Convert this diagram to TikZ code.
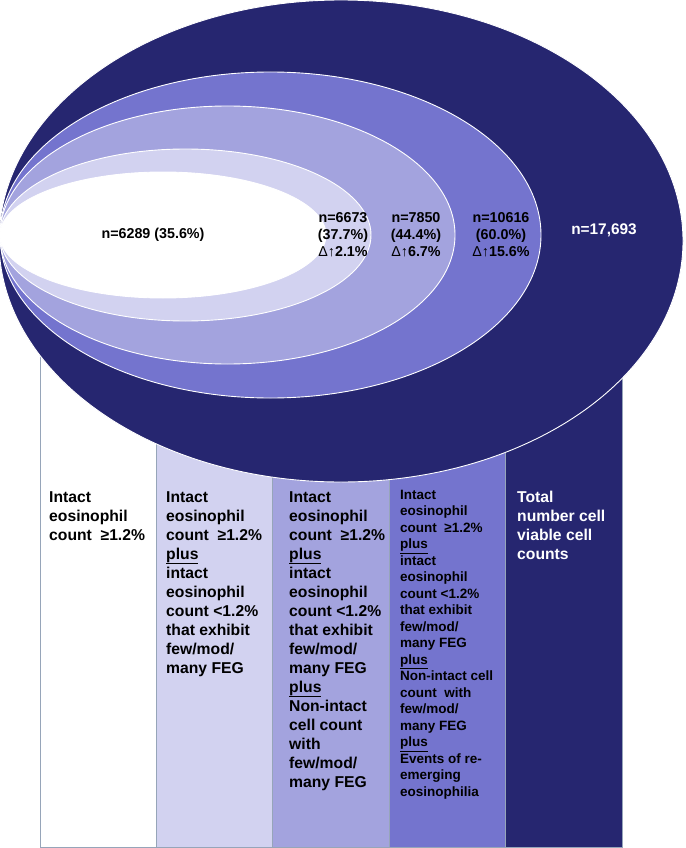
\documentclass[tikz,border=0pt]{standalone}
\usepackage{fontspec}
\setmainfont{Liberation Sans}
\usetikzlibrary{positioning}

\definecolor{ringdark}{RGB}{38,38,112}
\definecolor{ringmid}{RGB}{116,116,206}
\definecolor{ringlight}{RGB}{163,163,222}
\definecolor{ringpale}{RGB}{210,210,240}
\definecolor{colborder}{RGB}{150,165,185}

\newcommand{\riseby}[1]{{\mdseries Δ↑}#1\%}

\begin{document}
\begin{tikzpicture}[x=1pt, y=-1pt,
        % Shape styles
        ring/.style={draw=white, line width=0.9pt},
        colbox/.style={draw=colborder, line width=0.8pt},
        % Text styles
        coltext/.style={anchor=north west, inner sep=0pt, align=left, font=\bfseries\fontsize{15.7}{19}\selectfont},
        smalltext/.style={coltext, font=\bfseries\fontsize{13.5}{16.5}\selectfont},
        ringlabel/.style={inner sep=0pt, align=center, font=\bfseries\fontsize{14.3}{17}\selectfont}
    ]
    \useasboundingbox (0,0) rectangle (685,848);

    % --- COLUMNS BEHIND THE RINGS ---
    \foreach \i/\c in {0/white, 1/ringpale, 2/ringlight, 3/ringmid, 4/ringdark}
        \draw [colbox, fill=\c] ({40+116.4*\i},357) rectangle ({40+116.4*(\i+1)},847);

    % --- NESTED RINGS ---
    \draw [ring, fill=ringdark] (341,241) ellipse [x radius=342, y radius=241];
    \draw [ring, fill=ringmid] (270.5,235) ellipse [x radius=270.5, y radius=163];
    \draw [ring, fill=ringlight] (227.5,235) ellipse [x radius=227.5, y radius=129];
    \draw [ring, fill=ringpale] (185.5,235) ellipse [x radius=185.5, y radius=86];
    \draw [ring, fill=white] (163,235) ellipse [x radius=163, y radius=63];

    % --- RING LABELS ---
    \node (core) [ringlabel] at (153,235) {n=6289 (35.6\%)};
    \node (ring1) [ringlabel] at (343,235) {n=6673\\(37.7\%)\\\riseby{2.1}};
    \node (ring2) [ringlabel] at (416,235) {n=7850\\(44.4\%)\\\riseby{6.7}};
    \node (ring3) [ringlabel] at (501,235) {n=10616\\(60.0\%)\\\riseby{15.6}};
    \node (total) [ringlabel, text=white, font=\bfseries\fontsize{15.4}{18}\selectfont] at (604,230) {n=17,693};

    % --- COLUMN TEXTS ---
    \node (def1) [coltext] at (49,491) {Intact\\eosinophil\\count\ \ ≥1.2\%};
    \node (def2) [coltext] at (166,491) {Intact\\eosinophil\\count\ \ ≥1.2\%\\\underline{plus}\\intact\\eosinophil\\count <1.2\%\\that exhibit\\few/mod/\\many FEG};
    \node (def3) [coltext] at (289,491) {Intact\\eosinophil\\count\ \ ≥1.2\%\\\underline{plus}\\intact\\eosinophil\\count <1.2\%\\that exhibit\\few/mod/\\many FEG\\\underline{plus}\\Non-intact\\cell count\\with\\few/mod/\\many FEG};
    \node (def4) [smalltext] at (400,490) {Intact\\eosinophil\\count\ \ ≥1.2\%\\\underline{plus}\\intact\\eosinophil\\count <1.2\%\\that exhibit\\few/mod/\\many FEG\\\underline{plus}\\Non-intact cell\\count\ \ with\\few/mod/\\many FEG\\\underline{plus}\\Events of re-\\emerging\\eosinophilia};
    \node (def5) [coltext, text=white] at (517,491) {Total\\number cell\\viable cell\\counts};

\end{tikzpicture}
\end{document}
